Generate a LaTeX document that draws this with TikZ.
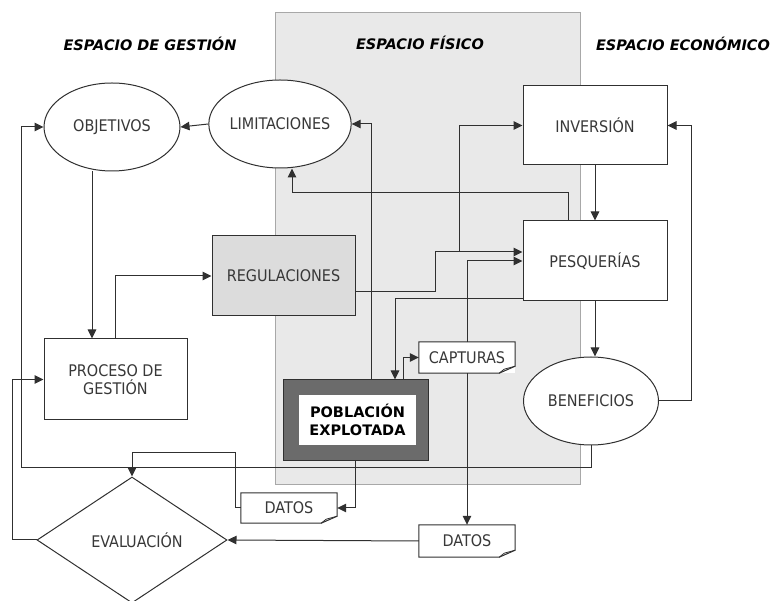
\documentclass[tikz,border=0pt]{standalone}
\usepackage{fontspec}
\setmainfont{DejaVu Sans}
\newfontfamily\labelfont{DejaVu Sans Condensed}
\usetikzlibrary{arrows.meta,shapes.geometric}
\definecolor{ink}{HTML}{303030}
\definecolor{txt}{HTML}{383838}
\definecolor{physbg}{HTML}{E9E9E9}
\definecolor{physedge}{HTML}{A8A8A8}
\definecolor{regfill}{HTML}{DCDCDC}
\definecolor{popfill}{HTML}{6B6B6B}
\begin{document}
\begin{tikzpicture}[x=1pt,y=-1pt,
  every node/.style={font=\labelfont\fontsize{16}{18.5}\selectfont, text=txt},
  conn/.style={draw=ink, line width=1pt, -{Triangle[length=9pt,width=8.5pt]}},
  oval/.style={ellipse, draw=ink, line width=1pt, fill=white, inner sep=0pt,
    minimum width=136pt, minimum height=88pt},
  block/.style={rectangle, draw=ink, line width=1pt, fill=white, inner sep=0pt,
    minimum width=144pt, minimum height=80pt, align=center},
  doc/.style={rectangle, draw=none, fill=white, inner sep=0pt,
    minimum width=96pt, minimum height=31pt},
  title/.style={font=\fontsize{14.5}{17}\selectfont\bfseries\itshape, text=black}]

\useasboundingbox (0,0) rectangle (780,601);

% physical space backdrop
\draw[physedge, fill=physbg, line width=1pt] (275,13) rectangle (580,485);

% section headings
\node[title] (tg) at (150,44) {ESPACIO DE GESTIÓN};
\node[title] (tf) at (420,43) {ESPACIO FÍSICO};
\node[title] (te) at (683,44) {ESPACIO ECONÓMICO};

% main nodes
\node[oval] (obj) at (112,127) {OBJETIVOS};
\node[oval] (lim) at (280,124) {LIMITACIONES};
\node[block, minimum height=79pt] (inv) at (595,125.5) {INVERSIÓN};
\node[block] (pes) at (595,261) {PESQUERÍAS};
\node[oval, minimum width=135pt] (ben) at (591,401) {BENEFICIOS};
\node[block, fill=regfill, minimum width=143pt] (reg) at (283.5,276) {REGULACIONES};
\node[block, minimum width=143pt, minimum height=81pt] (pro) at (115.5,379.5) {PROCESO DE\\GESTIÓN};
\node[rectangle, fill=popfill, draw=ink, line width=1pt, minimum width=145pt,
      minimum height=81pt, inner sep=0pt] (pob) at (355.5,420.5) {};
\node[rectangle, fill=white, minimum width=117pt, minimum height=50pt, inner sep=0pt,
      align=center, text=black, font=\fontsize{14.5}{17.5}\selectfont\bfseries]
      (pobt) at (357.5,420) {POBLACIÓN\\EXPLOTADA};
\node[diamond, draw=ink, line width=1pt, fill=white, inner sep=0pt,
      minimum width=190pt, minimum height=126pt] (eva) at (132,540) {};
\node (evat) at (137,540) {EVALUACIÓN};

% document-style notes with a curled corner
\node[doc] (cap) at (467,357.5) {CAPTURAS};
\node[doc, minimum height=30pt] (dat1) at (289,508) {DATOS};
\node[doc, minimum height=32pt] (dat2) at (467,541) {DATOS};
\foreach \n in {cap,dat1,dat2}{
  \draw[ink, line width=1pt] (\n.north west) -- (\n.north east) -- ([yshift=7pt]\n.south east)
    -- ([xshift=-16pt]\n.south east) -- (\n.south west) -- cycle;
  \draw[ink, line width=0.8pt] ([yshift=7pt]\n.south east) -- ([xshift=-11pt,yshift=4pt]\n.south east)
    -- ([xshift=-16pt]\n.south east);
}

% routing points
\coordinate (b1) at (21,468);
\coordinate (kx) at (371,0);
\coordinate (c568) at (568,193);
\coordinate (r1) at (435,252);
\coordinate (r2) at (459,252);
\coordinate (d1) at (235,453);
\coordinate (e1) at (12,540);
\coordinate (e2) at (691,401);

% connectors
\draw[conn] (lim.west) -- (obj.east);
\draw[conn] (ben.south) |- (b1) |- (obj.west);
\draw[conn] (pob.north -| kx) |- (lim.east);
\draw[conn] (pes.north -| c568) -- (c568) -| ([xshift=12pt]lim.south);
\draw[conn] ([xshift=-20pt]obj.south) -- ([xshift=-20pt]obj.south |- pro.north);
\draw[conn] (pro.north) |- (reg.west);
\draw[conn] ([yshift=-16pt]reg.east) -| (r1) -- (r1 -| pes.west);
\draw[conn] (r2) |- (inv.west);
\draw[conn] (cap.north) |- (pes.west);
\draw[conn] (cap.south) -- (dat2.north);
\draw[conn] ([yshift=-38pt]pes.west) -| ([xshift=39.5pt]pob.north);
\draw[conn] ([xshift=47.5pt]pob.north) |- (cap.west);
\draw[conn] (pob.south) |- (dat1.east);
\draw[conn] (dat1.west) -| (d1) -| (eva.north);
\draw[conn] (dat2.west) -- (eva.east);
\draw[conn] (eva.west) -- (e1) |- (pro.west);
\draw[conn] (inv.south) -- (pes.north);
\draw[conn] (pes.south) -- (pes.south |- ben.north);
\draw[conn] (ben.east) -- (e2) |- (inv.east);
\end{tikzpicture}
\end{document}
